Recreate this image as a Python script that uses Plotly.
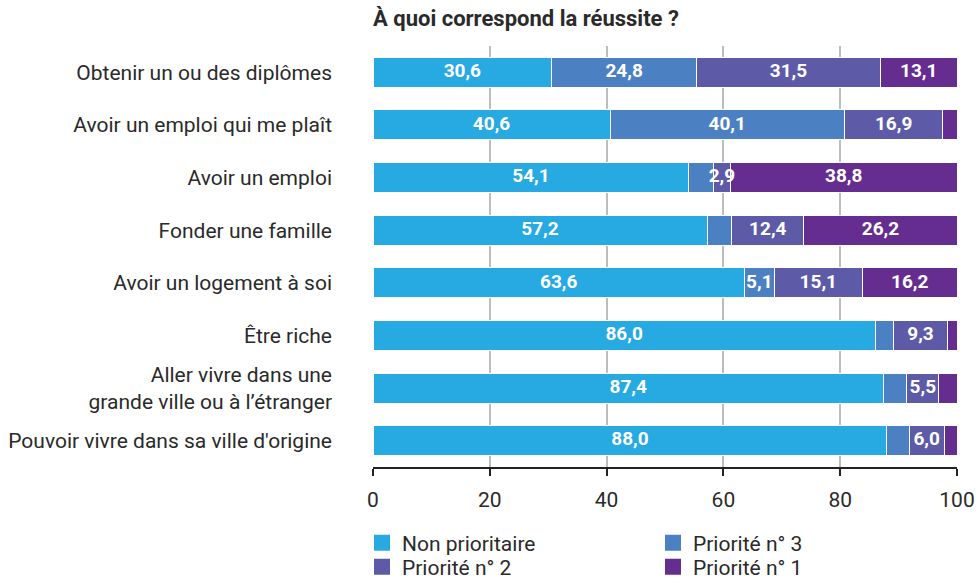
import numpy as np
import plotly.graph_objects as go

categories = [
    "Obtenir un ou des diplômes",
    "Avoir un emploi qui me plaît",
    "Avoir un emploi",
    "Fonder une famille",
    "Avoir un logement à soi",
    "Être riche",
    "Aller vivre dans une<br>grande ville ou à l’étranger",
    "Pouvoir vivre dans sa ville d'origine",
]
series_names = ["Non prioritaire", "Priorité n° 3", "Priorité n° 2", "Priorité n° 1"]
non_prioritaire = [30.6, 40.6, 54.1, 57.2, 63.6, 86.0, 87.4, 88.0]
priorite_3 = [24.8, 40.1, 4.2, 4.2, 5.1, 3.1, 4.0, 3.8]
priorite_2 = [31.5, 16.9, 2.9, 12.4, 15.1, 9.3, 5.5, 6.0]
priorite_1 = [13.1, 2.4, 38.8, 26.2, 16.2, 1.6, 3.1, 2.2]
# which segments carry a printed value
label_np = [True] * 8
label_p3 = [True, True, False, False, True, False, False, False]
label_p2 = [True] * 8
label_p1 = [True, False, True, True, True, False, False, False]
x_ticks = [0, 20, 40, 60, 80, 100]

colors = ["#27A9E1", "#4B80C2", "#5D5BA7", "#662D90"]
values = [non_prioritaire, priorite_3, priorite_2, priorite_1]
labels = [label_np, label_p3, label_p2, label_p1]
legend_ids = ["legend", "legend", "legend2", "legend2"]

FONT = "Roboto"
TXT = "#2a2a2a"

fig = go.Figure()
for name, vals, col, lg in zip(series_names, values, colors, legend_ids):
    fig.add_trace(go.Bar(
        y=categories, x=vals, orientation="h", name=name,
        marker=dict(color=col, line=dict(color="white", width=1)),
        showlegend=False, hoverinfo="skip", width=0.57,
    ))
    # legend entry with a larger square swatch
    fig.add_trace(go.Scatter(
        x=[None], y=[None], mode="markers", name=name,
        marker=dict(symbol="square", size=19, color=col),
        showlegend=True, legend=lg,
    ))

# value labels drawn on top of every bar, at segment centres
arr = np.array(values)
starts = np.vstack([np.zeros(arr.shape[1]), np.cumsum(arr, axis=0)[:-1]])
mids = starts + arr / 2
lx, ly, lt = [], [], []
for s in range(arr.shape[0]):
    for c in range(arr.shape[1]):
        if labels[s][c]:
            lx.append(mids[s, c])
            ly.append(categories[c])
            lt.append(f"{arr[s, c]:.1f}".replace(".", ","))
fig.add_trace(go.Scatter(
    x=lx, y=ly, mode="text", text=lt, textposition="middle center",
    textfont=dict(family=FONT, size=19, color="white", weight="bold"),
    showlegend=False, hoverinfo="skip", cliponaxis=False,
))

legend_common = dict(
    orientation="h", xanchor="left", yanchor="middle",
    xref="container", yref="container",
    entrywidth=246, entrywidthmode="pixels",
    font=dict(family=FONT, size=21, color=TXT),
    traceorder="normal", itemsizing="trace",
    bgcolor="rgba(0,0,0,0)",
)
fig.update_layout(
    barmode="stack",
    width=980, height=583,
    margin=dict(l=373, r=23, t=46, b=116),
    paper_bgcolor="white", plot_bgcolor="white",
    font=dict(family=FONT, size=21, color=TXT),
    title=dict(
        text="<b>À quoi correspond la réussite ?</b>",
        x=373 / 980, xanchor="left", y=1 - 18 / 583, yanchor="middle",
        font=dict(family=FONT, size=22, color=TXT),
    ),
    legend=dict(x=362 / 980, y=1 - 543 / 583, **legend_common),
    legend2=dict(x=362 / 980, y=1 - 567 / 583, **legend_common),
)
fig.update_xaxes(
    range=[0, 100], tickvals=x_ticks, ticktext=[str(t) for t in x_ticks],
    showgrid=True, gridcolor="#BDBDBD", gridwidth=1.5,
    zeroline=False, showline=True, linecolor="#222", linewidth=1.5,
    ticks="outside", ticklen=7, tickcolor="#222", tickwidth=1.5,
    ticklabelstandoff=6, automargin=False,
    tickfont=dict(family=FONT, size=21, color=TXT),
)
fig.update_yaxes(
    categoryorder="array", categoryarray=categories, autorange="reversed",
    showgrid=False, zeroline=False, showline=False, ticks="",
    ticklabelstandoff=40, automargin=False,
    tickfont=dict(family=FONT, size=21, color=TXT),
)

fig.write_html("out.html")
